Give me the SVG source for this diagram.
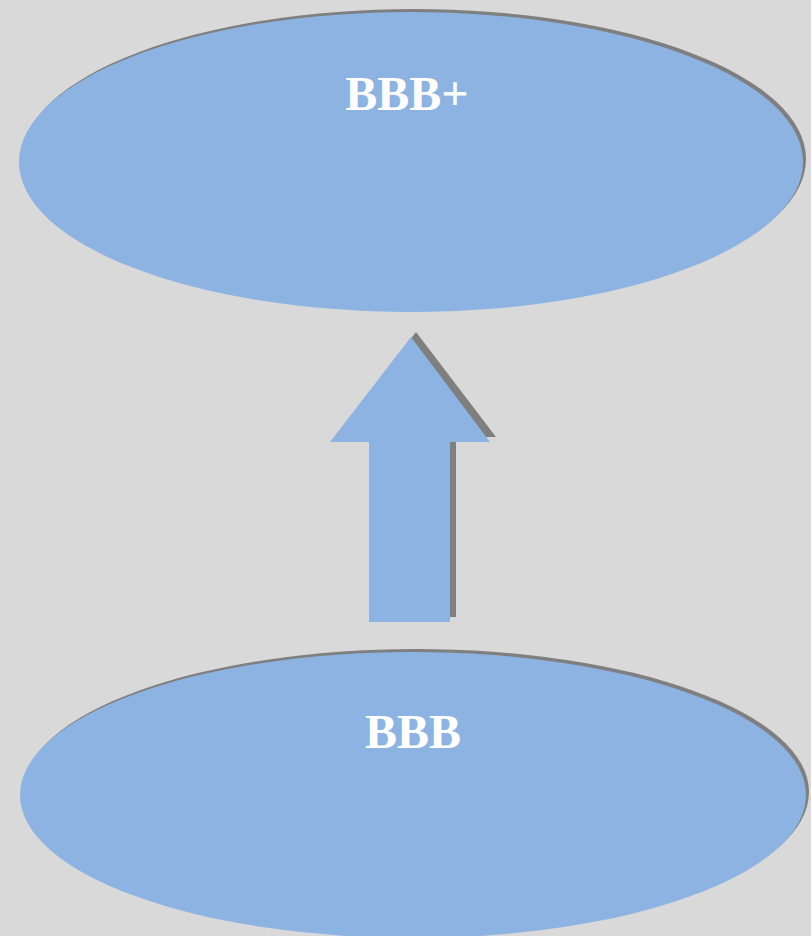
<svg xmlns="http://www.w3.org/2000/svg" width="811" height="936" viewBox="0 0 811 936">
<style>
.shape{fill:#8db3e2}
.shadow{fill:#7f7f7f}
.lbl{font-family:"Liberation Serif","DejaVu Serif",serif;font-weight:bold;font-size:48px;fill:#ffffff;text-anchor:middle}
</style>
<rect x="0" y="0" width="811" height="936" fill="#d9d9d9"/>
<g id="node-bbb-plus">
<ellipse class="shadow" cx="414" cy="159" rx="392" ry="150"/>
<ellipse class="shape" cx="411" cy="162" rx="392" ry="150"/>
<text class="lbl" x="407" y="110">BBB+</text>
</g>
<g id="node-bbb">
<ellipse class="shadow" cx="416" cy="792" rx="393" ry="143"/>
<ellipse class="shape" cx="413" cy="795" rx="393" ry="143"/>
<text class="lbl" x="413" y="748">BBB</text>
</g>
<g id="connectors">
<polygon class="shadow" points="416,332 496,437 456,437 456,617 375,617 375,437 336,437"/>
<polygon class="shape" points="411,337 490,442 450,442 450,622 369,622 369,442 330,442"/>
</g>
</svg>
